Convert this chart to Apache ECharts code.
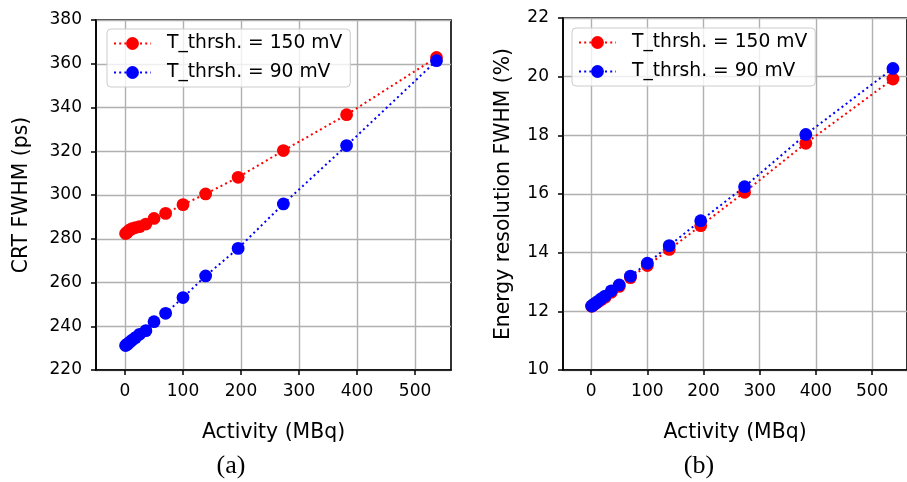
<!DOCTYPE html>
<html>
<head>
<meta charset="utf-8">
<script src="https://cdn.jsdelivr.net/npm/echarts@6/dist/echarts.min.js"></script>
<style>html,body{margin:0;padding:0;background:#fff}#root{width:907px;height:482px}</style>
</head>
<body>
<div id="root"></div>
<script>
var activity = [537, 382, 273, 195, 139, 100, 70, 50, 36, 25, 18, 12, 8, 5, 3, 1];
var crt150 = [362.9, 336.7, 320.3, 308.1, 300.5, 295.6, 291.6, 289.3, 286.7, 285.5, 285.1, 284.6, 284.0, 283.3, 282.8, 282.4];
var crt90 = [361.4, 322.6, 295.9, 275.6, 263.0, 253.1, 245.9, 242.1, 238.0, 236.3, 234.8, 233.6, 232.7, 232.0, 231.6, 231.2];
var er150 = [19.92, 17.73, 16.06, 14.92, 14.11, 13.56, 13.15, 12.85, 12.65, 12.48, 12.40, 12.32, 12.27, 12.23, 12.20, 12.17];
var er90 = [20.28, 18.03, 16.25, 15.09, 14.24, 13.64, 13.20, 12.90, 12.70, 12.52, 12.43, 12.34, 12.28, 12.24, 12.21, 12.18];
var xTicks = [0, 100, 200, 300, 400, 500];
var names = ['T_thrsh. = 150 mV', 'T_thrsh. = 90 mV'];

var FONT = 'DejaVu Sans';

var pairs = function (ys) {
    return activity.map(function (a, i) { return [a, ys[i]]; });
};

var makeX = function (idx) {
    return {
        type: 'value',
        gridIndex: idx,
        min: -50,
        max: 562,
        name: 'Activity (MBq)',
        nameLocation: 'middle',
        nameGap: 53,
        nameTextStyle: { fontSize: 20.4, color: '#000', fontFamily: FONT },
        axisLine: { show: true, onZero: false, lineStyle: { color: '#000', width: 1.6 } },
        axisTick: { show: true, length: 5, customValues: xTicks, lineStyle: { color: '#000', width: 1.5 } },
        axisLabel: { customValues: xTicks, fontSize: 17, color: '#000', margin: 13, fontFamily: FONT },
        splitLine: { show: true, lineStyle: { color: '#b0b0b0', width: 1.4 } }
    };
};

var makeY = function (idx, name, min, max, step, gap) {
    return {
        type: 'value',
        gridIndex: idx,
        min: min,
        max: max,
        interval: step,
        name: name,
        nameLocation: 'middle',
        nameGap: gap,
        nameTextStyle: { fontSize: 20.4, color: '#000', fontFamily: FONT },
        axisLine: { show: true, onZero: false, lineStyle: { color: '#000', width: 1.6 } },
        axisTick: { show: true, length: 5, lineStyle: { color: '#000', width: 1.5 } },
        axisLabel: { fontSize: 17, color: '#000', margin: 14, fontFamily: FONT },
        splitLine: { show: true, lineStyle: { color: '#b0b0b0', width: 1.4 } }
    };
};

var makeSeries = function (name, color, idx, ys) {
    return {
        name: name,
        type: 'line',
        xAxisIndex: idx,
        yAxisIndex: idx,
        data: pairs(ys),
        symbol: 'circle',
        symbolSize: 12.8,
        showAllSymbol: true,
        itemStyle: { color: color },
        lineStyle: { color: color, width: 2, type: [2, 3.2] },
        emphasis: { disabled: true },
        animation: false
    };
};

var makeLegend = function (left, top) {
    return {
        data: names,
        orient: 'vertical',
        left: left,
        top: top,
        padding: [5, 8, 5, 6],
        itemWidth: 37,
        itemHeight: 16,
        itemGap: 10,
        backgroundColor: 'rgba(255,255,255,0.8)',
        borderColor: '#cccccc',
        borderWidth: 1,
        borderRadius: 4,
        textStyle: { fontSize: 18.7, color: '#000', fontFamily: FONT, padding: [0, 0, 0, 11] }
    };
};

var chart = echarts.init(document.getElementById('root'));
chart.setOption({
    backgroundColor: '#fff',
    animation: false,
    grid: [
        { left: 96, top: 20, width: 355, height: 350, show: true, borderColor: '#000', borderWidth: 1.6 },
        { left: 563, top: 18, width: 356, height: 352, show: true, borderColor: '#000', borderWidth: 1.6 }
    ],
    xAxis: [makeX(0), makeX(1)],
    yAxis: [
        makeY(0, 'CRT FWHM (ps)', 220, 380, 20, 64),
        makeY(1, 'Energy resolution FWHM (%)', 10, 22, 2, 49)
    ],
    legend: [makeLegend(107, 29), makeLegend(572, 28)],
    graphic: [
        { type: 'text', x: 231, y: 466, style: { text: '(a)', font: '26px "Liberation Serif"', fill: '#000', textAlign: 'center', textVerticalAlign: 'middle' } },
        { type: 'text', x: 699, y: 466, style: { text: '(b)', font: '26px "Liberation Serif"', fill: '#000', textAlign: 'center', textVerticalAlign: 'middle' } }
    ],
    series: [
        makeSeries(names[0], '#ff0000', 0, crt150),
        makeSeries(names[1], '#0000ff', 0, crt90),
        makeSeries(names[0], '#ff0000', 1, er150),
        makeSeries(names[1], '#0000ff', 1, er90)
    ]
});
</script>
</body>
</html>
